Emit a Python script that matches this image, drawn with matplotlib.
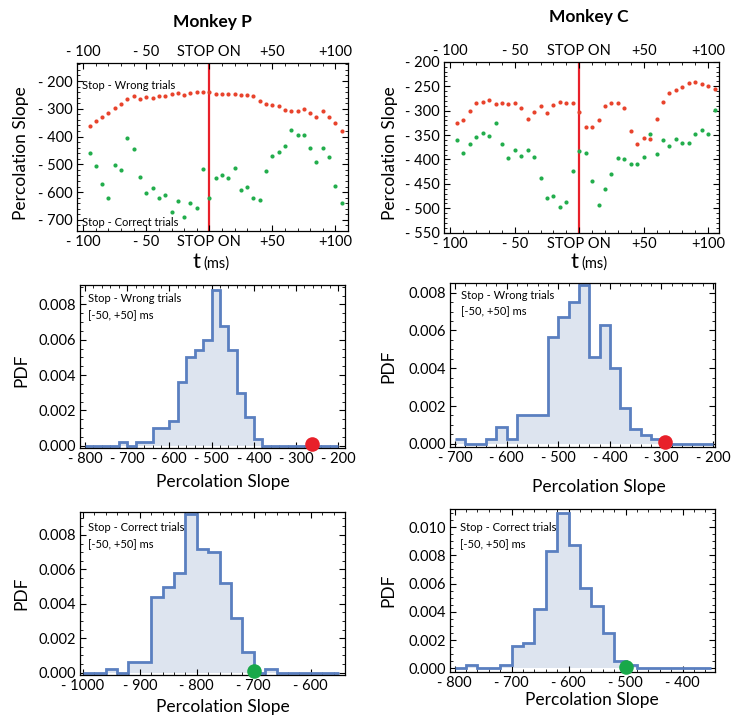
import matplotlib
matplotlib.use("Agg")
import matplotlib.pyplot as plt
from matplotlib.ticker import FixedLocator, MultipleLocator, FixedFormatter

plt.rcParams['font.family'] = ['Lato', 'DejaVu Sans']

# ---------------- data ----------------
t_ms = [-95, -90, -85, -80, -75, -70, -65, -60, -55, -50, -45, -40, -35, -30, -25, -20,
        -15, -10, -5, 0, 5, 10, 15, 20, 25, 30, 35, 40, 45, 50, 55, 60, 65, 70, 75, 80,
        85, 90, 95, 100, 105]

wrong_P = [-363, -345, -330, -315, -298, -281, -266, -255, -263, -257, -260, -253, -253, -248,
           -242, -249, -242, -240, -239, -239, -245, -247, -246, -246, -252, -252, -255, -271,
           -284, -288, -290, -305, -307, -307, -300, -316, -329, -307, -329, -352, -381]
correct_P = [-459, -506, -572, -620, -504, -520, -405, -443, -545, -604, -586, -623, -612, -670,
             -633, -688, -639, -659, -517, -622, -551, -537, -549, -512, -594, -580, -623, -628,
             -525, -469, -454, -433, -375, -393, -393, -441, -492, -442, -475, -577, -639]
wrong_C = [-326, -320, -300, -285, -283, -278, -286, -284, -286, -284, -295, -317, -302, -290,
           -304, -289, -282, -285, -285, -303, -333, -334, -320, -291, -284, -284, -294, -341,
           -368, -356, -358, -318, -283, -263, -258, -252, -243, -241, -245, -250, -256]
correct_C = [-361, -387, -369, -353, -346, -352, -326, -368, -396, -381, -393, -380, -395, -437,
             -478, -475, -498, -487, -423, -382, -386, -445, -494, -461, -429, -398, -399, -409,
             -410, -395, -348, -389, -361, -373, -358, -367, -367, -347, -339, -347, -298]

time_ticks = [-100, -50, 0, 50, 100]
time_labels = ['- 100', '- 50', 'STOP ON', '+50', '+100']

# histograms (bin edges, pdf values)
hP_wrong_edges = [-800, -720, -700, -680, -640, -600, -580, -560, -540, -520, -500, -480, -460,
                  -440, -420, -400, -380, -200]
hP_wrong_vals = [0, 0.0002, 0, 0.0002, 0.001, 0.0014, 0.0036, 0.005, 0.0054, 0.006, 0.0088,
                 0.0068, 0.0054, 0.003, 0.0016, 0.0004, 0]
hP_wrong_obs = -261

hC_wrong_edges = [-700, -680, -640, -620, -600, -580, -520, -500, -480, -460, -440, -420, -400,
                  -380, -360, -340, -320, -300, -200]
hC_wrong_vals = [0.00025, 0, 0.00025, 0.0009, 0.00025, 0.0015, 0.00565, 0.0067, 0.0075, 0.0084,
                 0.0046, 0.0063, 0.004, 0.0019, 0.0008, 0.00045, 0.00025, 0]
hC_wrong_obs = -292

hP_corr_edges = [-1000, -960, -940, -920, -880, -860, -840, -820, -800, -780, -760, -740, -720,
                 -700, -680, -660, -550]
hP_corr_vals = [0, 0.0002, 0, 0.0006, 0.0044, 0.005, 0.0058, 0.0092, 0.0072, 0.007, 0.0052,
                0.0032, 0.0012, 0, 0.0002, 0]
hP_corr_obs = -699

hC_corr_edges = [-800, -780, -760, -720, -700, -680, -660, -640, -620, -600, -580, -560, -540,
                 -520, -500, -480, -350]
hC_corr_vals = [0, 0.0002, 0, 0.0002, 0.0016, 0.0018, 0.0042, 0.0083, 0.011, 0.0087, 0.0057,
                0.0044, 0.0025, 0.00055, 0.00022, 0]
hC_corr_obs = -499

# ---------------- style ----------------
RED = '#e8432c'
GREEN = '#22ad4c'
LINE_RED = '#e8202a'
HIST_LINE = '#5a7fc0'
HIST_FILL = '#dde4ef'
DOT_RED = '#e8202a'
DOT_GREEN = '#19a84a'

fig = plt.figure(figsize=(7.31, 7.18), dpi=100)


def style_ticks(ax, top_labels=False):
    ax.tick_params(which='both', direction='in', top=True, right=True, labelsize=10.5,
                   labeltop=top_labels, pad=3)
    ax.tick_params(which='major', length=4, width=0.8)
    ax.tick_params(which='minor', length=2, width=0.6)
    for s in ax.spines.values():
        s.set_linewidth(0.9)


def scatter_panel(rect, wrong, correct, ylim, yticks, yminor, xlim, tpos, lab_y, annot):
    ax = fig.add_axes(rect)
    ax.axvline(0, color=LINE_RED, lw=1.6, zorder=1)
    ax.plot(t_ms, wrong, 'o', color=RED, ms=3.0, mec='none', zorder=3)
    ax.plot(t_ms, correct, 'o', color=GREEN, ms=3.0, mec='none', zorder=3)
    ax.set_xlim(*xlim)
    ax.set_ylim(*ylim)
    ax.xaxis.set_major_locator(FixedLocator(time_ticks))
    ax.xaxis.set_major_formatter(FixedFormatter(time_labels))
    ax.xaxis.set_minor_locator(MultipleLocator(10))
    ax.yaxis.set_major_locator(FixedLocator(yticks))
    ax.yaxis.set_major_formatter(FixedFormatter(['- %d' % abs(v) for v in yticks]))
    ax.yaxis.set_minor_locator(MultipleLocator(yminor))
    style_ticks(ax, top_labels=True)
    ax.text(lab_y[0], lab_y[1], 'Percolation Slope', transform=ax.transAxes, rotation=90,
            ha='center', va='center', fontsize=12.5)
    ax.text(tpos[0], tpos[1], 't', transform=ax.transAxes, ha='center', va='center', fontsize=16)
    ax.text(tpos[0] + 0.025, tpos[1] - 0.01, '(ms)', transform=ax.transAxes, ha='left',
            va='center', fontsize=10.5)
    for (x, y, s) in annot:
        ax.text(x, y, s, ha='left', va='center', fontsize=8)
    return ax


scatter_panel([0.1053, 0.6783, 0.3707, 0.234], wrong_P, correct_P, (-740, -135),
              [-200, -300, -400, -500, -600, -700], 20, (-105, 110),
              (0.44, -0.185), (-0.205, 0.465),
              [(-101, -216, 'Stop - Wrong trials'), (-101, -710, 'Stop - Correct trials')])
scatter_panel([0.6074, 0.6759, 0.3762, 0.238], wrong_C, correct_C, (-550, -200),
              [-200, -250, -300, -350, -400, -450, -500, -550], 10, (-105, 108.5),
              (0.475, -0.17), (-0.197, 0.466), [])


def hist_panel(rect, edges, vals, obs, dotc, xlim, ylim, xticks, yticks, annot, ylab_pos, xlab_pos):
    ax = fig.add_axes(rect)
    ax.stairs(vals, edges, baseline=0, fill=True, color=HIST_FILL, lw=0, zorder=1)
    ax.stairs(vals, edges, baseline=None, color=HIST_LINE, lw=2.0, zorder=2)
    ax.plot([obs], [0.00012], 'o', color=dotc, ms=10.5, mec='none', zorder=4, clip_on=False)
    ax.set_xlim(*xlim)
    ax.set_ylim(*ylim)
    ax.xaxis.set_major_locator(FixedLocator(xticks))
    ax.xaxis.set_major_formatter(FixedFormatter(['- %d' % abs(v) for v in xticks]))
    ax.xaxis.set_minor_locator(MultipleLocator(20))
    ax.yaxis.set_major_locator(FixedLocator(yticks))
    ax.yaxis.set_major_formatter(FixedFormatter(['%.3f' % v for v in yticks]))
    ax.yaxis.set_minor_locator(MultipleLocator(0.0005))
    style_ticks(ax)
    ax.text(annot[0], annot[1], annot[2], transform=ax.transAxes, ha='left', va='top',
            fontsize=8, linespacing=1.6)
    ax.text(ylab_pos[0], ylab_pos[1], 'PDF', transform=ax.transAxes, rotation=90,
            ha='center', va='center', fontsize=12.5)
    ax.text(xlab_pos[0], xlab_pos[1], 'Percolation Slope', transform=ax.transAxes,
            ha='center', va='center', fontsize=12.5)
    return ax


hist_panel([0.1094, 0.3756, 0.3625, 0.2274], hP_wrong_edges, hP_wrong_vals, hP_wrong_obs,
           DOT_RED, (-812, -184), (-0.00015, 0.0091), [-800, -700, -600, -500, -400, -300, -200],
           [0, 0.002, 0.004, 0.006, 0.008],
           (0.03, 0.95, 'Stop - Wrong trials\n[-50, +50] ms'), (-0.22, 0.48), (0.54, -0.205))
hist_panel([0.6156, 0.3779, 0.3625, 0.2276], hC_wrong_edges, hC_wrong_vals, hC_wrong_obs,
           DOT_RED, (-710, -196), (-0.00015, 0.0085), [-700, -600, -500, -400, -300, -200],
           [0, 0.002, 0.004, 0.006, 0.008],
           (0.04, 0.96, 'Stop - Wrong trials\n[-50, +50] ms'), (-0.234, 0.49), (0.56, -0.245))
hist_panel([0.1094, 0.0599, 0.3625, 0.2274], hP_corr_edges, hP_corr_vals, hP_corr_obs,
           DOT_GREEN, (-1005, -540), (-0.00014, 0.00935), [-1000, -900, -800, -700, -600],
           [0, 0.002, 0.004, 0.006, 0.008],
           (0.03, 0.935, 'Stop - Correct trials\n[-50, +50] ms'), (-0.22, 0.50), (0.54, -0.198))
hist_panel([0.6156, 0.0645, 0.3625, 0.2262], hC_corr_edges, hC_corr_vals, hC_corr_obs,
           DOT_GREEN, (-808, -343), (-0.00024, 0.01126), [-800, -700, -600, -500, -400],
           [0, 0.002, 0.004, 0.006, 0.008, 0.010],
           (0.038, 0.92, 'Stop - Correct trials\n[-50, +50] ms'), (-0.234, 0.50), (0.535, -0.174))

fig.text(212 / 731, 1 - 22 / 718, 'Monkey P', ha='center', va='center', fontsize=12.5,
         fontweight='bold')
fig.text(589 / 731, 1 - 17 / 718, 'Monkey C', ha='center', va='center', fontsize=12.5,
         fontweight='bold')

fig.savefig('out.png', dpi=100)
